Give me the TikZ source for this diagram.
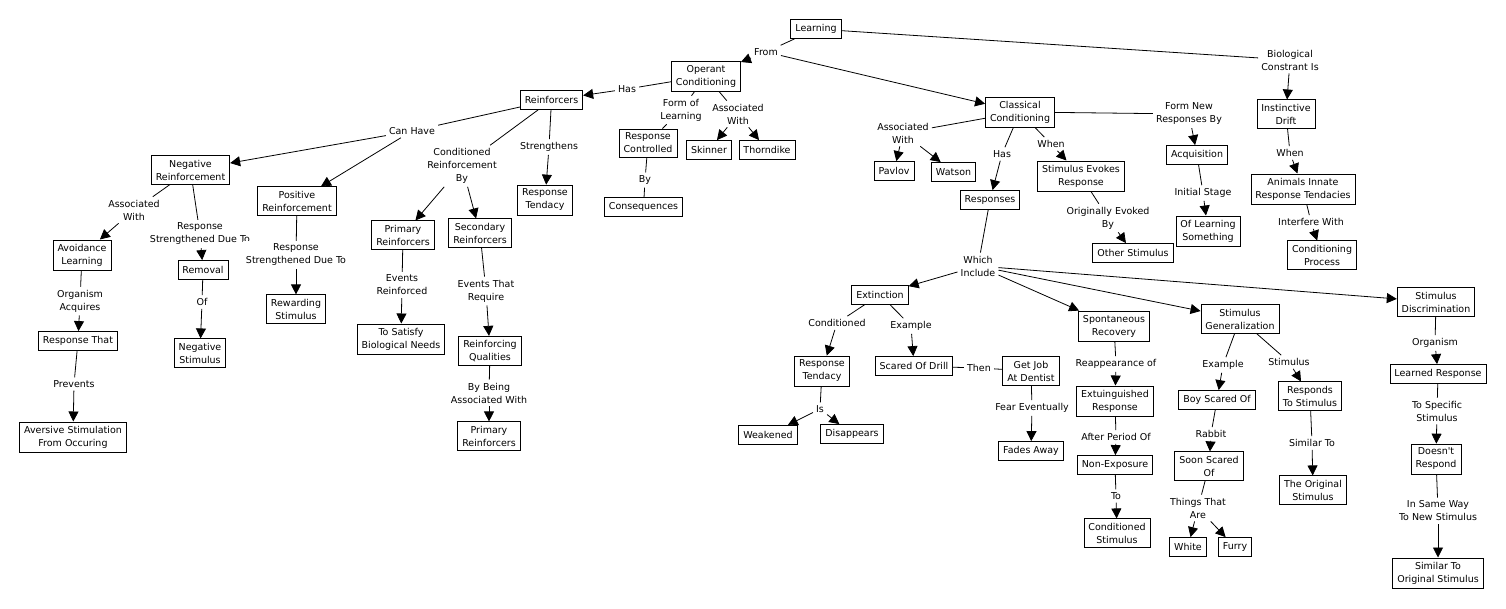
\documentclass[tikz,border=0pt]{standalone}
\usepackage{fontspec}
\setmainfont{DejaVu Sans}
\usetikzlibrary{arrows.meta}
\newcommand\mapfs{\fontsize{9.5}{13}\selectfont}
\tikzset{
  box/.style={draw, line width=0.8pt, align=center, inner xsep=4.5pt, inner ysep=4pt, minimum height=19pt, font=\mapfs},
  lab/.style={align=center, inner sep=3pt, fill=white, font=\mapfs},
  ln/.style={line width=0.8pt},
  ar/.style={line width=0.8pt, -{Triangle[length=10pt,width=10pt]}}
}
\begin{document}
\begin{tikzpicture}[x=1pt,y=-1pt]
\fill[white] (0,0) rectangle (1506,608);
\useasboundingbox (0,0) rectangle (1506,608);
% top
\node[box] (learning) at (816,29) {Learning};
\node[lab] (from) at (766,52) {From};
\node[box] (opc) at (706,76) {Operant\\Conditioning};
\node[box] (clc) at (1020,112) {Classical\\Conditioning};
\node[lab] (bio) at (1290,60) {Biological\\Constrant Is};
\node[box] (drift) at (1286,114) {Instinctive\\Drift};
\node[lab] (when2) at (1290,153) {When};
\node[box] (animals) at (1303,189) {Animals Innate\\Response Tendacies};
\node[lab] (interf) at (1311,222) {Interfere With};
\node[box] (condproc) at (1322,255) {Conditioning\\Process};
% operant
\node[lab] (has1) at (627,89) {Has};
\node[box] (reinf) at (551.5,100) {Reinforcers};
\node[lab] (formof) at (681,110) {Form of\\Learning};
\node[lab] (assoc1) at (738,114) {Associated\\With};
\node[box] (respctrl) at (648,143) {Response\\Controlled};
\node[box] (skinner) at (709,150) {Skinner};
\node[box] (thorn) at (767,150) {Thorndike};
\node[lab] (by1) at (645,180) {By};
\node[box] (conseq) at (643.5,207) {Consequences};
% reinforcers
\node[lab] (canhave) at (412,131) {Can Have};
\node[box] (negr) at (190.5,170) {Negative\\Reinforcement};
\node[box] (posr) at (297,201) {Positive\\Reinforcement};
\node[lab] (condrb) at (462,166) {Conditioned\\Reinforcement\\By};
\node[lab] (strength) at (549,147) {Strengthens};
\node[box] (resptend1) at (545,200) {Response\\Tendacy};
\node[box] (prim1) at (403,235) {Primary\\Reinforcers};
\node[box] (sec) at (480,233) {Secondary\\Reinforcers};
\node[lab] (evreinf) at (402,285) {Events\\Reinforced};
\node[box] (tosat) at (401,339) {To Satisfy\\Biological Needs};
\node[lab] (evreq) at (486,291) {Events That\\Require};
\node[box] (reinq) at (490,351) {Reinforcing\\Qualities};
\node[lab] (bybeing) at (489,393) {By Being\\Associated With};
\node[box] (prim2) at (489,436) {Primary\\Reinforcers};
% negative
\node[lab] (assoc2) at (134,210) {Associated\\With};
\node[box] (avoid) at (82,255) {Avoidance\\Learning};
\node[lab] (rsdt1) at (200,234) {Response\\Strengthened Due To};
\node[box] (removal) at (203,270) {Removal};
\node[lab] (of1) at (202,302) {Of};
\node[box] (negstim) at (200,353) {Negative\\Stimulus};
\node[lab] (orgacq) at (80,301) {Organism\\Acquires};
\node[box] (respthat) at (78,341) {Response That};
\node[lab] (prevents) at (74,384) {Prevents};
\node[box] (aversive) at (73,437) {Aversive Stimulation\\From Occuring};
\node[lab] (rsdt2) at (296,255) {Response\\Strengthened Due To};
\node[box] (reward) at (296,309) {Rewarding\\Stimulus};
% classical
\node[lab] (assoc3) at (903,133) {Associated\\With};
\node[box] (pavlov) at (894,171) {Pavlov};
\node[box] (watson) at (953.5,172) {Watson};
\node[lab] (has2) at (1002,154) {Has};
\node[box] (responses) at (990,200) {Responses};
\node[lab] (when1) at (1051,144) {When};
\node[box] (sevokes) at (1081,176) {Stimulus Evokes\\Response};
\node[lab] (origev) at (1108,218) {Originally Evoked\\By};
\node[box] (otherstim) at (1133,253) {Other Stimulus};
\node[lab] (formnew) at (1189,114) {Form New\\Responses By};
\node[box] (acq) at (1197,155) {Acquisition};
\node[lab] (initial) at (1203,193) {Initial Stage};
\node[box] (oflearn) at (1208,231) {Of Learning\\Something};
\node[lab] (which) at (978,266) {Which\\Include};
% extinction
\node[box] (ext) at (880,294.5) {Extinction};
\node[lab] (condl) at (837,323) {Conditioned};
\node[lab] (example1) at (911,326) {Example};
\node[box] (resptend2) at (822,371) {Response\\Tendacy};
\node[lab] (is) at (820,409) {Is};
\node[box] (weak) at (768,435) {Weakened};
\node[box] (disap) at (852,434) {Disappears};
\node[box] (drill) at (914,366) {Scared Of Drill};
\node[lab] (then) at (979,368) {Then};
\node[box] (getjob) at (1031,371) {Get Job\\At Dentist};
\node[lab] (fear) at (1032,408) {Fear Eventually};
\node[box] (fades) at (1031,451) {Fades Away};
% spontaneous
\node[box] (spont) at (1114,326) {Spontaneous\\Recovery};
\node[lab] (reapp) at (1116,364) {Reappearance of};
\node[box] (extu) at (1115,401) {Extuinguished\\Response};
\node[lab] (after) at (1116,437) {After Period Of};
\node[box] (nonexp) at (1115,465) {Non-Exposure};
\node[lab] (to) at (1116,496) {To};
\node[box] (condstim) at (1117,533) {Conditioned\\Stimulus};
% generalization
\node[box] (gen) at (1240,319) {Stimulus\\Generalization};
\node[lab] (example2) at (1223,365) {Example};
\node[lab] (stimlab) at (1289,362) {Stimulus};
\node[box] (boy) at (1217,400) {Boy Scared Of};
\node[lab] (rabbit) at (1211,434) {Rabbit};
\node[box] (soon) at (1209,466) {Soon Scared\\Of};
\node[lab] (things) at (1198,508) {Things That\\Are};
\node[box] (white) at (1188,547) {White};
\node[box] (furry) at (1235,547) {Furry};
\node[box] (respto) at (1310,396) {Responds\\To Stimulus};
\node[lab] (simto) at (1312,443) {Similar To};
\node[box] (origstim) at (1313,490) {The Original\\Stimulus};
% discrimination
\node[box] (disc) at (1436,302) {Stimulus\\Discrimination};
\node[lab] (organism) at (1435,343) {Organism};
\node[box] (learned) at (1438,374) {Learned Response};
\node[lab] (tospec) at (1437,411) {To Specific\\Stimulus};
\node[box] (doesnt) at (1436,459) {Doesn\textquotesingle t\\Respond};
\node[lab] (insame) at (1438,511) {In Same Way\\To New Stimulus};
\node[box] (simorig) at (1438,573) {Similar To\\Original Stimulus};
% edges
\draw[ln] (learning) -- (from); \draw[ar] (from) -- (opc); \draw[ar] (from) -- (clc);
\draw[ln] (learning) -- (bio); \draw[ar] (bio) -- (drift);
\draw[ln] (drift) -- (when2); \draw[ar] (when2) -- (animals);
\draw[ln] (animals) -- (interf); \draw[ar] (interf) -- (condproc);
\draw[ln] (opc) -- (has1); \draw[ar] (has1) -- (reinf);
\draw[ln] (opc) -- (formof); \draw[ln] (formof) -- (respctrl);
\draw[ln] (opc) -- (assoc1); \draw[ar] (assoc1) -- (skinner); \draw[ar] (assoc1) -- (thorn);
\draw[ln] (respctrl) -- (by1); \draw[ln] (by1) -- (conseq);
\draw[ln] (reinf) -- (canhave); \draw[ar] (canhave) -- (negr); \draw[ar] (canhave) -- (posr);
\draw[ln] (reinf) -- (condrb); \draw[ar] (condrb) -- (prim1); \draw[ar] (condrb) -- (sec);
\draw[ln] (reinf) -- (strength); \draw[ar] (strength) -- (resptend1);
\draw[ln] (negr) -- (assoc2); \draw[ar] (assoc2) -- (avoid);
\draw[ln] (negr) -- (rsdt1); \draw[ar] (rsdt1) -- (removal);
\draw[ln] (removal) -- (of1); \draw[ar] (of1) -- (negstim);
\draw[ln] (avoid) -- (orgacq); \draw[ar] (orgacq) -- (respthat);
\draw[ln] (respthat) -- (prevents); \draw[ar] (prevents) -- (aversive);
\draw[ln] (posr) -- (rsdt2); \draw[ar] (rsdt2) -- (reward);
\draw[ln] (prim1) -- (evreinf); \draw[ar] (evreinf) -- (tosat);
\draw[ln] (sec) -- (evreq); \draw[ar] (evreq) -- (reinq);
\draw[ln] (reinq) -- (bybeing); \draw[ar] (bybeing) -- (prim2);
\draw[ln] (clc) -- (assoc3); \draw[ar] (assoc3) -- (pavlov); \draw[ar] (assoc3) -- (watson);
\draw[ln] (clc) -- (has2); \draw[ar] (has2) -- (responses);
\draw[ln] (clc) -- (when1); \draw[ar] (when1) -- (sevokes);
\draw[ln] (sevokes) -- (origev); \draw[ar] (origev) -- (otherstim);
\draw[ln] (clc) -- (formnew); \draw[ar] (formnew) -- (acq);
\draw[ln] (acq) -- (initial); \draw[ar] (initial) -- (oflearn);
\draw[ln] (responses) -- (which);
\draw[ar] (which) -- (ext); \draw[ar] (which) -- (spont); \draw[ar] (which) -- (gen); \draw[ar] (which) -- (disc);
\draw[ln] (ext) -- (condl); \draw[ar] (condl) -- (resptend2);
\draw[ln] (ext) -- (example1); \draw[ar] (example1) -- (drill);
\draw[ln] (resptend2) -- (is); \draw[ar] (is) -- (weak); \draw[ar] (is) -- (disap);
\draw[ln] (drill) -- (then); \draw[ln] (then) -- (getjob);
\draw[ln] (getjob) -- (fear); \draw[ar] (fear) -- (fades);
\draw[ln] (spont) -- (reapp); \draw[ar] (reapp) -- (extu);
\draw[ln] (extu) -- (after); \draw[ar] (after) -- (nonexp);
\draw[ln] (nonexp) -- (to); \draw[ar] (to) -- (condstim);
\draw[ln] (gen) -- (example2); \draw[ar] (example2) -- (boy);
\draw[ln] (gen) -- (stimlab); \draw[ar] (stimlab) -- (respto);
\draw[ln] (boy) -- (rabbit); \draw[ar] (rabbit) -- (soon);
\draw[ln] (soon) -- (things); \draw[ar] (things) -- (white); \draw[ar] (things) -- (furry);
\draw[ln] (respto) -- (simto); \draw[ar] (simto) -- (origstim);
\draw[ln] (disc) -- (organism); \draw[ar] (organism) -- (learned);
\draw[ln] (learned) -- (tospec); \draw[ar] (tospec) -- (doesnt);
\draw[ln] (doesnt) -- (insame); \draw[ar] (insame) -- (simorig);
\end{tikzpicture}
\end{document}
